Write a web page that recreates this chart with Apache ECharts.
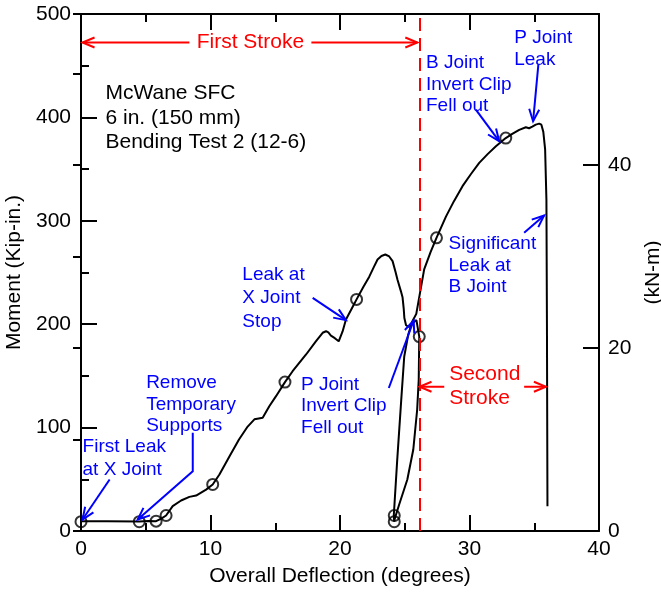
<!DOCTYPE html>
<html><head><meta charset="utf-8">
<script src="https://cdn.jsdelivr.net/npm/echarts@6/dist/echarts.min.js"></script>
<style>html,body{margin:0;padding:0;background:#fff}#c{width:661px;height:596px}</style>
</head><body><div id="c"></div>
<script>
// ---- data ----
const deflection = [0, 2.0, 4.5, 5.2, 5.8, 6.2, 6.57, 7.08, 7.73, 8.37, 8.89, 9.66, 10.17, 10.69, 11.46, 12.2, 12.87, 13.39, 13.72, 14.03, 14.54, 15.06, 15.75, 16.34, 17.38, 18.15, 18.66, 18.92, 19.1, 19.3, 19.6, 19.9, 20.2, 20.46, 20.9, 21.28, 21.8, 22.26, 22.6, 22.9, 23.2, 23.5, 23.8, 24.06, 24.3, 24.44, 24.7, 24.83, 24.92, 24.97, 25.1, 25.3, 25.6, 25.9, 26.05, 26.12, 26.08, 25.96, 25.66, 25.2, 24.57, 24.23, 24.19, 24.15, 24.42, 24.73, 24.96, 25.27, 25.58, 25.89, 26.5, 27.0, 27.45, 28.18, 28.8, 29.46, 30.1, 30.75, 31.4, 32.04, 32.8, 33.3, 33.84, 34.35, 34.6, 34.85, 35.12, 35.38, 35.55, 35.7, 35.84, 35.94, 35.98, 36.02];
const moment = [9.5, 9.5, 9.2, 9.6, 9.5, 12, 15, 24, 29.5, 33, 34.3, 40, 45, 54.6, 72, 88.5, 101, 108, 108.8, 109.5, 120.7, 130.4, 144, 154.5, 170.7, 183.6, 191.7, 193.2, 192, 189, 186.5, 183.5, 193, 204.5, 215, 224, 236, 246, 255, 262.6, 266, 267.4, 265.5, 261, 250, 243, 232, 226, 215, 206, 199, 197.5, 201, 204, 205, 188, 146.5, 117.5, 78.8, 49.8, 25.6, 12, 9, 14.3, 69, 127, 168.8, 190, 202.6, 210, 253, 270, 283.5, 304, 319, 333.5, 345, 356, 364.5, 372, 380, 384, 388, 390.5, 389.5, 391, 393, 394, 393, 386, 369, 320, 200, 24];
const markerDeflection = [0, 4.5, 5.8, 6.57, 10.17, 15.75, 21.28, 24.19, 24.19, 26.12, 27.45, 32.8];
const markerMoment = [9, 9, 9.5, 15, 45, 144, 224, 9, 15, 188, 283.5, 380];
const xTickLabels = [0, 10, 20, 30, 40];
const momentTickLabels = [0, 100, 200, 300, 400, 500];
const kNmTickLabels = [0, 20, 40];
const KIPIN_TO_KNM = 0.112985;
const secondStrokeStart = 26.12;

// ---- annotations (data coordinates) ----
const FONT = '"Liberation Sans", Arial, sans-serif';
const BLUE = '#0000ff', RED = '#ff0000';
const notes = [
  {text: 'McWane SFC\n6 in. (150 mm)\nBending Test 2 (12-6)', at: [1.89, 399.6], color: '#000', size: 21, lh: 24.7},
  {text: 'First Leak\nat X Joint', at: [0.12, 70.8], color: BLUE, size: 19, lh: 23},
  {text: 'Remove\nTemporary\nSupports', at: [5.03, 122.3], color: BLUE, size: 19, lh: 21.7},
  {text: 'Leak at\nX Joint\nStop', at: [12.46, 225.3], color: BLUE, size: 19, lh: 23.5},
  {text: 'P Joint\nInvert Clip\nFell out', at: [16.99, 120.7], color: BLUE, size: 19, lh: 21.7},
  {text: 'B Joint\nInvert Clip\nFell out', at: [26.64, 431.8], color: BLUE, size: 19, lh: 21.7},
  {text: 'P Joint\nLeak', at: [33.45, 466.5], color: BLUE, size: 19, lh: 21.7},
  {text: 'Significant\nLeak at\nB Joint', at: [28.38, 256.8], color: BLUE, size: 19, lh: 21.5},
  {text: 'First Stroke', at: [13.08, 472.4], color: RED, size: 21, lh: 24, align: 'center'},
  {text: 'Second\nStroke', at: [28.43, 139.7], color: RED, size: 21, lh: 24}
];
const arrows = [
  {pts: [[2.21, 49.8], [0.12, 11.1]], color: BLUE},
  {pts: [[8.63, 95], [8.63, 57.8], [4.38, 11.1]], color: BLUE},
  {pts: [[17.89, 225.5], [20.46, 203.9]], color: BLUE},
  {pts: [[23.77, 138.3], [25.69, 203.6]], color: BLUE},
  {pts: [[30.49, 407.6], [32.29, 377]], color: BLUE},
  {pts: [[35.32, 451.2], [34.91, 396.3]], color: BLUE},
  {pts: [[34.22, 288.4], [35.76, 305.1]], color: BLUE},
  {pts: [[8.37, 472.4], [0.12, 472.4]], color: RED},
  {pts: [[17.79, 472.4], [25.97, 472.4]], color: RED},
  {pts: [[28.05, 139.5], [26.14, 139.5]], color: RED},
  {pts: [[34.22, 139.5], [35.9, 139.5]], color: RED}
];

// ---- chart ----
const chart = echarts.init(document.getElementById('c'), null, {renderer: 'canvas'});
const black = '#000';
const axisLine = {show: true, onZero: false, lineStyle: {color: black, width: 2}};
const tickMajor = {show: true, inside: true, length: 16, lineStyle: {color: black, width: 2}};
const tickMinor = {show: true, splitNumber: 2, length: 8, lineStyle: {color: black, width: 2}};
const labelStyle = {color: black, fontSize: 21, fontFamily: FONT};
const curve = deflection.map((d, i) => [d, moment[i]]);
const markers = markerDeflection.map((d, i) => [d, markerMoment[i]]);
const kMax = momentTickLabels[momentTickLabels.length - 1] * KIPIN_TO_KNM;

chart.setOption({
  animation: false,
  backgroundColor: '#fff',
  grid: {left: 81, right: 62, top: 14, bottom: 65, containLabel: false, outerBoundsMode: 'none'},
  xAxis: [
    {type: 'value', position: 'bottom', min: xTickLabels[0], max: xTickLabels[xTickLabels.length - 1],
     interval: xTickLabels[1] - xTickLabels[0], axisLine, axisTick: tickMajor, minorTick: tickMinor,
     splitLine: {show: false}, minorSplitLine: {show: false},
     axisLabel: Object.assign({margin: 8}, labelStyle),
     name: 'Overall Deflection (degrees)', nameLocation: 'middle', nameGap: 35, nameTextStyle: labelStyle},
    {type: 'value', position: 'top', min: xTickLabels[0], max: xTickLabels[xTickLabels.length - 1],
     interval: xTickLabels[1] - xTickLabels[0], axisLine, axisTick: tickMajor, minorTick: tickMinor,
     splitLine: {show: false}, axisLabel: {show: false}}
  ],
  yAxis: [
    {type: 'value', position: 'left', min: momentTickLabels[0], max: momentTickLabels[momentTickLabels.length - 1],
     interval: momentTickLabels[1] - momentTickLabels[0], axisLine, axisTick: tickMajor, minorTick: tickMinor,
     splitLine: {show: false}, minorSplitLine: {show: false},
     axisLabel: Object.assign({margin: 10}, labelStyle),
     name: 'Moment (Kip-in.)', nameLocation: 'middle', nameGap: 48, nameTextStyle: labelStyle},
    {type: 'value', position: 'right', min: 0, max: kMax, interval: kNmTickLabels[1] - kNmTickLabels[0],
     axisLine, axisTick: tickMajor, splitLine: {show: false},
     axisLabel: Object.assign({margin: 9, showMaxLabel: false,
       formatter: v => kNmTickLabels.indexOf(Math.round(v * 1000) / 1000) >= 0 ? String(v) : ''}, labelStyle),
     name: '(kN-m)', nameLocation: 'middle', nameGap: 41, nameTextStyle: labelStyle},
    {type: 'value', position: 'right', min: 0, max: kMax, interval: (kNmTickLabels[1] - kNmTickLabels[0]) / 2,
     axisLine: {show: false}, axisTick: {show: true, inside: true, length: 8, lineStyle: {color: black, width: 2}},
     splitLine: {show: false}, axisLabel: {show: false}}
  ],
  series: [
    {type: 'line', data: curve, xAxisIndex: 0, yAxisIndex: 0, showSymbol: false, symbol: 'none',
     lineStyle: {color: black, width: 2}, z: 3,
     markLine: {silent: true, symbol: ['none', 'none'], label: {show: false},
       lineStyle: {color: RED, type: [13, 7], width: 2}, data: [{xAxis: secondStrokeStart}]}},
    {type: 'scatter', data: markers, xAxisIndex: 0, yAxisIndex: 0, symbol: 'circle', symbolSize: 11,
     itemStyle: {color: 'rgba(255,255,255,0)', borderColor: black, borderWidth: 2}, z: 4}
  ]
});

const toPx = d => chart.convertToPixel({seriesIndex: 0}, d);
const els = [];
notes.forEach(n => {
  const p = toPx(n.at);
  els.push({type: 'text', x: p[0], y: p[1], silent: true, z: 10,
    style: {text: n.text, fill: n.color, font: n.size + 'px ' + FONT, align: n.align || 'left',
      verticalAlign: 'middle', lineHeight: n.lh}});
});
arrows.forEach(a => {
  const p = a.pts.map(toPx);
  els.push({type: 'polyline', silent: true, z: 10, shape: {points: p}, style: {stroke: a.color, lineWidth: 2, fill: 'none'}});
  const from = p[p.length - 2], tip = p[p.length - 1];
  const dx = tip[0] - from[0], dy = tip[1] - from[1], L = Math.hypot(dx, dy), ux = dx / L, uy = dy / L;
  const len = 12, w = 5, bx = tip[0] - ux * len, by = tip[1] - uy * len;
  els.push({type: 'polyline', silent: true, z: 10,
    shape: {points: [[bx - uy * w, by + ux * w], tip, [bx + uy * w, by - ux * w]]},
    style: {stroke: a.color, lineWidth: 2, fill: 'none'}});
});
chart.setOption({graphic: {elements: els}});
</script>
</body></html>
